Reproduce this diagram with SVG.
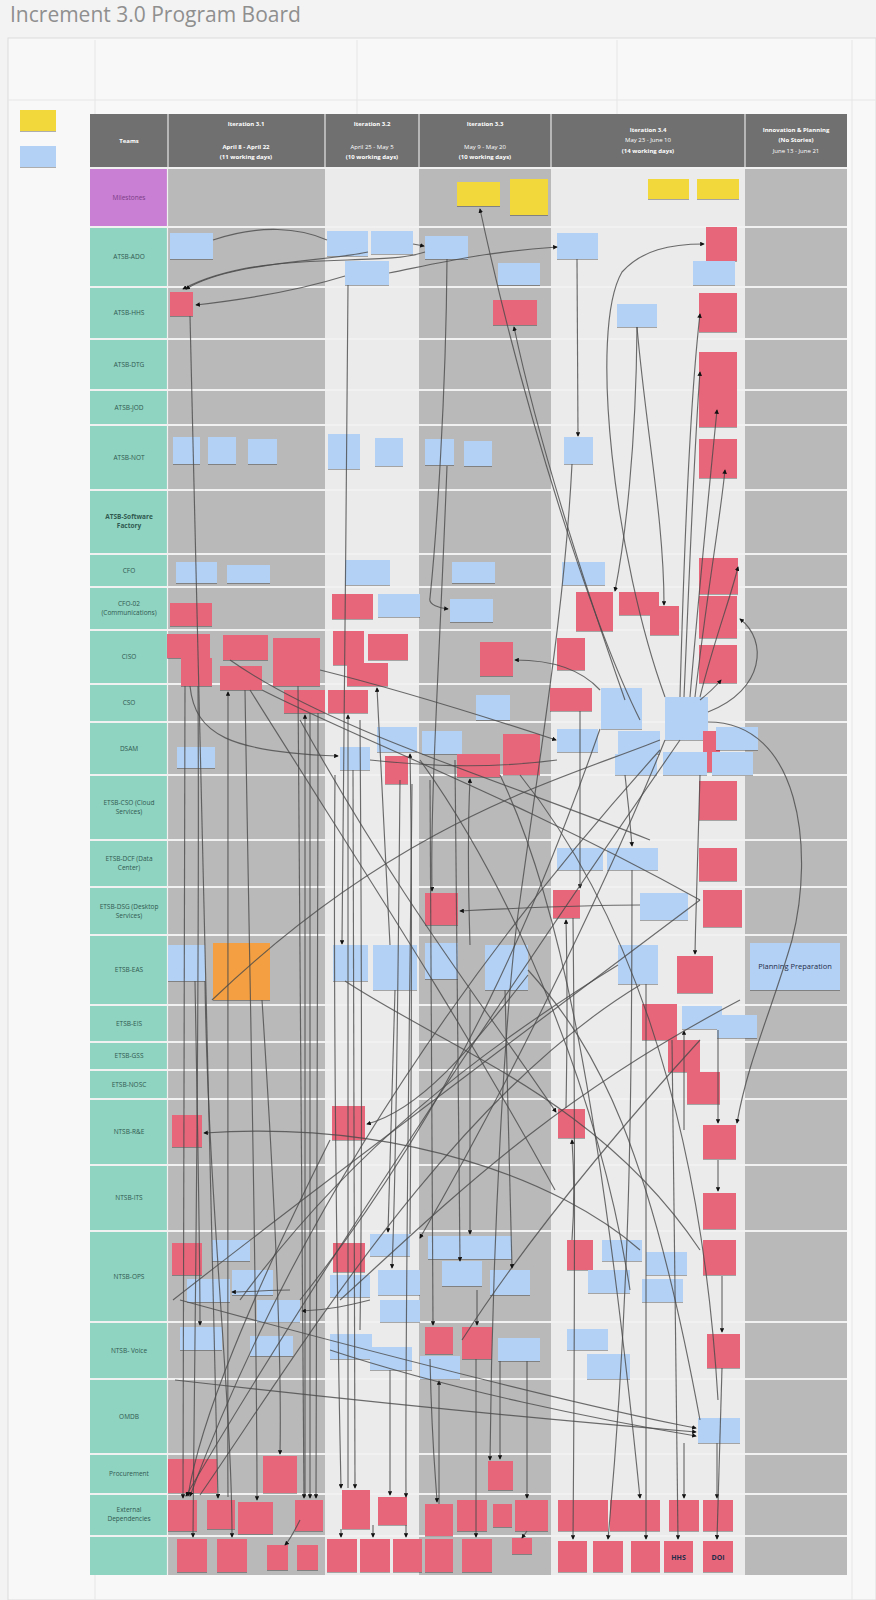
<svg xmlns="http://www.w3.org/2000/svg" width="876" height="1600" viewBox="0 0 876 1600">
<defs>
<style>
.title{font-family:"Open Sans","Liberation Sans",sans-serif;font-size:21px;fill:#8f8f8f}
.hd{font-family:"Open Sans","Liberation Sans",sans-serif;font-size:6px;fill:#fff;text-anchor:middle}
.bd{font-weight:bold}
.lbl{font-family:"Open Sans","Liberation Sans",sans-serif;font-size:6.5px;fill:#2f5a50;text-anchor:middle}
.mil{fill:#7a3e86}
.b{fill:#b3d1f4}
.r{fill:#e8667a}
.y{fill:#f3d83a}
.o{fill:#f4a042}
.notes rect{filter:url(#sh)}
.nt{font-family:"Open Sans","Liberation Sans",sans-serif;fill:#1f2d4a;text-anchor:middle}
.c path{fill:none;stroke:#4a4a4a;stroke-width:1.15;stroke-opacity:.8}
.sep{stroke:#f1f1f1;stroke-width:2.2}
.grid{stroke:#e6e6e6;stroke-width:1}
</style>
<filter id="sh" x="-10%" y="-10%" width="120%" height="130%"><feDropShadow dx="0" dy="1" stdDeviation="0.6" flood-color="#000" flood-opacity="0.3"/></filter>
<marker id="a" viewBox="0 0 6 6" refX="5" refY="3" markerWidth="4" markerHeight="4" orient="auto"><path d="M0,0 L6,3 L0,6 z" fill="#111"/></marker>
</defs>
<rect width="876" height="1600" fill="#f3f3f3"/>
<rect x="8" y="38" width="868" height="1562" fill="#f8f8f8" stroke="#dcdcdc"/>
<g id="grid">
<line class="grid" x1="95" y1="40" x2="95" y2="114"/>
<line class="grid" x1="95" y1="1575" x2="95" y2="1600"/>
<line class="grid" x1="357" y1="40" x2="357" y2="114"/>
<line class="grid" x1="617" y1="40" x2="617" y2="114"/>
<line class="grid" x1="852" y1="40" x2="852" y2="1600"/>
<line class="grid" x1="8" y1="100" x2="876" y2="100"/>
</g>
<text class="title" x="10" y="22">Increment 3.0 Program Board</text>

<g id="legend">
<rect x="20" y="110" width="36" height="21" class="y" filter="url(#sh)"/>
<rect x="20" y="146" width="36" height="21" class="b" filter="url(#sh)"/>
</g>

<g id="board">
<rect x="168" y="168" width="157" height="1407" fill="#b9b9b9"/>
<rect x="325" y="168" width="94" height="1407" fill="#ebebeb"/>
<rect x="419" y="168" width="132" height="1407" fill="#b9b9b9"/>
<rect x="551" y="168" width="194" height="1407" fill="#ebebeb"/>
<rect x="745" y="168" width="102" height="1407" fill="#b9b9b9"/>
<rect x="90" y="168" width="77" height="1407" fill="#8fd3c1"/>
<rect x="90" y="168" width="77" height="59" fill="#c97fd3"/>
<g id="header">
<rect x="90" y="114" width="757" height="53" fill="#707070"/>
<line x1="168" y1="114" x2="168" y2="167" stroke="#e6e6e6" stroke-width="1.2"/>
<line x1="325" y1="114" x2="325" y2="167" stroke="#e6e6e6" stroke-width="1.2"/>
<line x1="419" y1="114" x2="419" y2="167" stroke="#e6e6e6" stroke-width="1.2"/>
<line x1="551" y1="114" x2="551" y2="167" stroke="#e6e6e6" stroke-width="1.2"/>
<line x1="745" y1="114" x2="745" y2="167" stroke="#e6e6e6" stroke-width="1.2"/>
<text class="hd bd" x="129" y="143">Teams</text>
<text class="hd bd" x="246" y="126">Iteration 3.1</text>
<text class="hd bd" x="246" y="149">April 8 - April 22</text>
<text class="hd bd" x="246" y="159">(11 working days)</text>
<text class="hd bd" x="372" y="126">Iteration 3.2</text>
<text class="hd" x="372" y="149">April 25 - May 5</text>
<text class="hd bd" x="372" y="159">(10 working days)</text>
<text class="hd bd" x="485" y="126">Iteration 3.3</text>
<text class="hd" x="485" y="149">May 9 - May 20</text>
<text class="hd bd" x="485" y="159">(10 working days)</text>
<text class="hd bd" x="648" y="132">Iteration 3.4</text>
<text class="hd" x="648" y="142">May 23 - June 10</text>
<text class="hd bd" x="648" y="153">(14 working days)</text>
<text class="hd bd" x="796" y="132">Innovation &amp; Planning</text>
<text class="hd bd" x="796" y="142">(No Stories)</text>
<text class="hd" x="796" y="153">June 13 - June 21</text>
</g>
<g id="rowlines">
<line class="sep" x1="90" y1="168" x2="847" y2="168"/>
<line class="sep" x1="90" y1="227" x2="847" y2="227"/>
<line class="sep" x1="90" y1="287" x2="847" y2="287"/>
<line class="sep" x1="90" y1="339" x2="847" y2="339"/>
<line class="sep" x1="90" y1="390" x2="847" y2="390"/>
<line class="sep" x1="90" y1="425" x2="847" y2="425"/>
<line class="sep" x1="90" y1="490" x2="847" y2="490"/>
<line class="sep" x1="90" y1="554" x2="847" y2="554"/>
<line class="sep" x1="90" y1="587" x2="847" y2="587"/>
<line class="sep" x1="90" y1="630" x2="847" y2="630"/>
<line class="sep" x1="90" y1="684" x2="847" y2="684"/>
<line class="sep" x1="90" y1="722" x2="847" y2="722"/>
<line class="sep" x1="90" y1="775" x2="847" y2="775"/>
<line class="sep" x1="90" y1="840" x2="847" y2="840"/>
<line class="sep" x1="90" y1="887" x2="847" y2="887"/>
<line class="sep" x1="90" y1="935" x2="847" y2="935"/>
<line class="sep" x1="90" y1="1005" x2="847" y2="1005"/>
<line class="sep" x1="90" y1="1042" x2="847" y2="1042"/>
<line class="sep" x1="90" y1="1070" x2="847" y2="1070"/>
<line class="sep" x1="90" y1="1099" x2="847" y2="1099"/>
<line class="sep" x1="90" y1="1165" x2="847" y2="1165"/>
<line class="sep" x1="90" y1="1231" x2="847" y2="1231"/>
<line class="sep" x1="90" y1="1322" x2="847" y2="1322"/>
<line class="sep" x1="90" y1="1379" x2="847" y2="1379"/>
<line class="sep" x1="90" y1="1454" x2="847" y2="1454"/>
<line class="sep" x1="90" y1="1494" x2="847" y2="1494"/>
<line class="sep" x1="90" y1="1536" x2="847" y2="1536"/>
<line x1="167.5" y1="168" x2="167.5" y2="1575" stroke="#f1f1f1" stroke-width="1.2"/>
</g>
<g id="rowlabels">
<text class="lbl mil" x="129" y="200">Milestones</text>
<text class="lbl" x="129" y="259">ATSB-ADO</text>
<text class="lbl" x="129" y="315">ATSB-HHS</text>
<text class="lbl" x="129" y="367">ATSB-DTG</text>
<text class="lbl" x="129" y="410">ATSB-JOD</text>
<text class="lbl" x="129" y="460">ATSB-NOT</text>
<text class="lbl bd" x="129" y="519">ATSB-Software</text>
<text class="lbl bd" x="129" y="528">Factory</text>
<text class="lbl" x="129" y="573">CFO</text>
<text class="lbl" x="129" y="606">CFO-02</text>
<text class="lbl" x="129" y="615">(Communications)</text>
<text class="lbl" x="129" y="659">CISO</text>
<text class="lbl" x="129" y="705">CSO</text>
<text class="lbl" x="129" y="751">DSAM</text>
<text class="lbl" x="129" y="805">ETSB-CSO (Cloud</text>
<text class="lbl" x="129" y="814">Services)</text>
<text class="lbl" x="129" y="861">ETSB-DCF (Data</text>
<text class="lbl" x="129" y="870">Center)</text>
<text class="lbl" x="129" y="909">ETSB-DSG (Desktop</text>
<text class="lbl" x="129" y="918">Services)</text>
<text class="lbl" x="129" y="972">ETSB-EAS</text>
<text class="lbl" x="129" y="1026">ETSB-EIS</text>
<text class="lbl" x="129" y="1058">ETSB-GSS</text>
<text class="lbl" x="129" y="1087">ETSB-NOSC</text>
<text class="lbl" x="129" y="1134">NTSB-R&amp;E</text>
<text class="lbl" x="129" y="1200">NTSB-ITS</text>
<text class="lbl" x="129" y="1279">NTSB-OPS</text>
<text class="lbl" x="129" y="1353">NTSB- Voice</text>
<text class="lbl" x="129" y="1419">OMDB</text>
<text class="lbl" x="129" y="1476">Procurement</text>
<text class="lbl" x="129" y="1512">External</text>
<text class="lbl" x="129" y="1521">Dependencies</text>
</g>
</g>

<g class="notes">
<g id="m1"><rect class="y" x="457" y="182" width="43" height="24"/></g>
<g id="m2"><rect class="y" x="510" y="179" width="38" height="36"/></g>
<g id="m3"><rect class="y" x="648" y="179" width="41" height="20"/></g>
<g id="m4"><rect class="y" x="697" y="179" width="42" height="20"/></g>
<g id="ado1"><rect class="b" x="170" y="233" width="43" height="26"/></g>
<g id="ado2"><rect class="b" x="327" y="231" width="41" height="25"/></g>
<g id="ado3"><rect class="b" x="371" y="231" width="42" height="23"/></g>
<g id="ado4"><rect class="b" x="345" y="261" width="44" height="24"/></g>
<g id="ado5"><rect class="b" x="425" y="236" width="43" height="23"/></g>
<g id="ado6"><rect class="b" x="498" y="263" width="42" height="22"/></g>
<g id="ado7"><rect class="b" x="557" y="233" width="41" height="26"/></g>
<g id="ado8"><rect class="r" x="706" y="227" width="31" height="34"/></g>
<g id="ado9"><rect class="b" x="693" y="261" width="42" height="24"/></g>
<g id="hhs1"><rect class="r" x="170" y="292" width="23" height="24"/></g>
<g id="hhs2"><rect class="r" x="493" y="300" width="44" height="25"/></g>
<g id="hhs3"><rect class="b" x="617" y="304" width="40" height="23"/></g>
<g id="hhs4"><rect class="r" x="699" y="293" width="38" height="39"/></g>
<g id="dtg1"><rect class="r" x="699" y="352" width="38" height="38"/></g>
<g id="jod1"><rect class="r" x="699" y="390" width="38" height="37"/></g>
<g id="not1"><rect class="b" x="173" y="437" width="27" height="27"/></g>
<g id="not2"><rect class="b" x="208" y="437" width="28" height="27"/></g>
<g id="not3"><rect class="b" x="248" y="439" width="29" height="25"/></g>
<g id="not4"><rect class="b" x="328" y="434" width="32" height="35"/></g>
<g id="not5"><rect class="b" x="375" y="438" width="28" height="28"/></g>
<g id="not6"><rect class="b" x="425" y="439" width="29" height="26"/></g>
<g id="not7"><rect class="b" x="464" y="441" width="28" height="25"/></g>
<g id="not8"><rect class="b" x="564" y="437" width="29" height="27"/></g>
<g id="not9"><rect class="r" x="699" y="439" width="38" height="39"/></g>
<g id="cfo1"><rect class="b" x="176" y="562" width="41" height="21"/></g>
<g id="cfo2"><rect class="b" x="227" y="565" width="43" height="18"/></g>
<g id="cfo3"><rect class="b" x="345" y="560" width="45" height="25"/></g>
<g id="cfo4"><rect class="b" x="452" y="562" width="43" height="21"/></g>
<g id="cfo5"><rect class="b" x="562" y="562" width="43" height="23"/></g>
<g id="cfo6"><rect class="r" x="699" y="558" width="39" height="36"/></g>
<g id="com1"><rect class="r" x="170" y="603" width="42" height="23"/></g>
<g id="com2"><rect class="r" x="332" y="594" width="41" height="25"/></g>
<g id="com3"><rect class="b" x="378" y="594" width="42" height="23"/></g>
<g id="com4"><rect class="b" x="450" y="599" width="43" height="23"/></g>
<g id="com5"><rect class="r" x="576" y="592" width="37" height="39"/></g>
<g id="com6"><rect class="r" x="619" y="592" width="40" height="23"/></g>
<g id="com7"><rect class="r" x="650" y="606" width="29" height="29"/></g>
<g id="com8"><rect class="r" x="699" y="596" width="38" height="42"/></g>
<g id="ciso1"><rect class="r" x="167" y="634" width="43" height="24"/></g>
<g id="ciso2"><rect class="r" x="181" y="658" width="31" height="28"/></g>
<g id="ciso3"><rect class="r" x="223" y="635" width="45" height="25"/></g>
<g id="ciso4"><rect class="r" x="220" y="666" width="42" height="24"/></g>
<g id="ciso5"><rect class="r" x="273" y="638" width="47" height="48"/></g>
<g id="ciso6"><rect class="r" x="333" y="631" width="31" height="34"/></g>
<g id="ciso7"><rect class="r" x="368" y="634" width="40" height="26"/></g>
<g id="ciso8"><rect class="r" x="347" y="663" width="41" height="23"/></g>
<g id="ciso9"><rect class="r" x="480" y="642" width="33" height="34"/></g>
<g id="ciso10"><rect class="r" x="557" y="638" width="28" height="32"/></g>
<g id="ciso11"><rect class="r" x="699" y="645" width="38" height="38"/></g>
<g id="cso1"><rect class="r" x="284" y="690" width="41" height="23"/></g>
<g id="cso2"><rect class="r" x="328" y="690" width="40" height="23"/></g>
<g id="cso3"><rect class="b" x="476" y="695" width="34" height="25"/></g>
<g id="cso4"><rect class="r" x="550" y="688" width="42" height="23"/></g>
<g id="cso5"><rect class="b" x="601" y="688" width="41" height="41"/></g>
<g id="cso6"><rect class="b" x="665" y="697" width="43" height="43"/></g>
<g id="dsam1"><rect class="b" x="177" y="747" width="38" height="21"/></g>
<g id="dsam2"><rect class="b" x="340" y="747" width="30" height="23"/></g>
<g id="dsam3"><rect class="b" x="377" y="727" width="40" height="25"/></g>
<g id="dsam4"><rect class="b" x="422" y="731" width="40" height="23"/></g>
<g id="dsam5"><rect class="r" x="385" y="756" width="23" height="28"/></g>
<g id="dsam6"><rect class="r" x="457" y="754" width="43" height="23"/></g>
<g id="dsam7"><rect class="r" x="503" y="734" width="37" height="41"/></g>
<g id="dsam8"><rect class="b" x="557" y="729" width="41" height="23"/></g>
<g id="dsam9"><rect class="b" x="618" y="731" width="42" height="23"/></g>
<g id="dsam10"><rect class="b" x="615" y="754" width="42" height="21"/></g>
<g id="dsam11"><rect class="r" x="703" y="731" width="17" height="41"/></g>
<g id="dsam12"><rect class="b" x="716" y="727" width="42" height="23"/></g>
<g id="dsam13"><rect class="b" x="663" y="752" width="44" height="23"/></g>
<g id="dsam14"><rect class="b" x="712" y="752" width="41" height="23"/></g>
<g id="cld1"><rect class="r" x="699" y="781" width="38" height="39"/></g>
<g id="dcf1"><rect class="b" x="557" y="848" width="46" height="22"/></g>
<g id="dcf2"><rect class="b" x="607" y="848" width="51" height="22"/></g>
<g id="dcf3"><rect class="r" x="699" y="848" width="38" height="33"/></g>
<g id="dsg1"><rect class="r" x="425" y="893" width="33" height="32"/></g>
<g id="dsg2"><rect class="r" x="553" y="890" width="27" height="28"/></g>
<g id="dsg3"><rect class="b" x="640" y="893" width="48" height="27"/></g>
<g id="dsg4"><rect class="r" x="703" y="890" width="39" height="37"/></g>
<g id="eas1"><rect class="b" x="168" y="945" width="37" height="36"/></g>
<g id="eas2"><rect class="o" x="213" y="943" width="57" height="57"/></g>
<g id="eas3"><rect class="b" x="333" y="945" width="35" height="36"/></g>
<g id="eas4"><rect class="b" x="373" y="945" width="44" height="45"/></g>
<g id="eas5"><rect class="b" x="425" y="943" width="33" height="36"/></g>
<g id="eas6"><rect class="b" x="485" y="945" width="43" height="45"/></g>
<g id="eas7"><rect class="b" x="618" y="945" width="40" height="39"/></g>
<g id="eas8"><rect class="r" x="677" y="956" width="36" height="37"/></g>
<g id="eas9"><rect class="b" x="750" y="943" width="90" height="47"/><text class="nt" x="795" y="969" font-size="7.5">Planning Preparation</text></g>
<g id="eis1"><rect class="r" x="642" y="1004" width="35" height="36"/></g>
<g id="eis2"><rect class="b" x="682" y="1006" width="40" height="23"/></g>
<g id="eis3"><rect class="b" x="717" y="1015" width="40" height="23"/></g>
<g id="gss1"><rect class="r" x="668" y="1040" width="32" height="32"/></g>
<g id="nosc1"><rect class="r" x="687" y="1072" width="33" height="32"/></g>
<g id="re1"><rect class="r" x="172" y="1115" width="30" height="32"/></g>
<g id="re2"><rect class="r" x="332" y="1106" width="33" height="34"/></g>
<g id="re3"><rect class="r" x="558" y="1109" width="27" height="29"/></g>
<g id="re4"><rect class="r" x="703" y="1125" width="33" height="34"/></g>
<g id="its1"><rect class="r" x="703" y="1193" width="33" height="36"/></g>
<g id="ops1"><rect class="r" x="172" y="1243" width="30" height="32"/></g>
<g id="ops2"><rect class="b" x="212" y="1240" width="38" height="21"/></g>
<g id="ops3"><rect class="b" x="187" y="1279" width="43" height="23"/></g>
<g id="ops4"><rect class="b" x="232" y="1270" width="41" height="25"/></g>
<g id="ops5"><rect class="b" x="257" y="1300" width="43" height="22"/></g>
<g id="ops6"><rect class="r" x="333" y="1243" width="32" height="29"/></g>
<g id="ops7"><rect class="b" x="370" y="1234" width="40" height="22"/></g>
<g id="ops8"><rect class="b" x="330" y="1275" width="40" height="22"/></g>
<g id="ops9"><rect class="b" x="378" y="1270" width="42" height="25"/></g>
<g id="ops10"><rect class="b" x="380" y="1300" width="40" height="22"/></g>
<g id="ops11"><rect class="b" x="428" y="1236" width="84" height="23"/></g>
<g id="ops12"><rect class="b" x="442" y="1261" width="40" height="25"/></g>
<g id="ops13"><rect class="b" x="490" y="1270" width="40" height="25"/></g>
<g id="ops14"><rect class="r" x="567" y="1240" width="26" height="30"/></g>
<g id="ops15"><rect class="b" x="602" y="1240" width="40" height="21"/></g>
<g id="ops16"><rect class="b" x="588" y="1270" width="42" height="23"/></g>
<g id="ops17"><rect class="b" x="646" y="1252" width="41" height="23"/></g>
<g id="ops18"><rect class="b" x="642" y="1279" width="41" height="23"/></g>
<g id="ops19"><rect class="r" x="703" y="1240" width="33" height="35"/></g>
<g id="v1"><rect class="b" x="180" y="1327" width="42" height="23"/></g>
<g id="v2"><rect class="b" x="250" y="1336" width="43" height="20"/></g>
<g id="v3"><rect class="b" x="330" y="1334" width="42" height="25"/></g>
<g id="v4"><rect class="b" x="370" y="1347" width="42" height="23"/></g>
<g id="v5"><rect class="r" x="425" y="1327" width="28" height="27"/></g>
<g id="v6"><rect class="r" x="462" y="1327" width="30" height="32"/></g>
<g id="v7"><rect class="b" x="498" y="1338" width="42" height="23"/></g>
<g id="v8"><rect class="b" x="420" y="1356" width="40" height="23"/></g>
<g id="v9"><rect class="b" x="567" y="1329" width="41" height="21"/></g>
<g id="v10"><rect class="b" x="587" y="1354" width="43" height="25"/></g>
<g id="v11"><rect class="r" x="707" y="1334" width="33" height="34"/></g>
<g id="om1"><rect class="b" x="698" y="1418" width="42" height="25"/></g>
<g id="pr1"><rect class="r" x="168" y="1459" width="49" height="34"/></g>
<g id="pr2"><rect class="r" x="263" y="1456" width="34" height="37"/></g>
<g id="pr3"><rect class="r" x="488" y="1461" width="25" height="29"/></g>
<g id="ex1"><rect class="r" x="168" y="1500" width="29" height="31"/></g>
<g id="ex2"><rect class="r" x="207" y="1500" width="28" height="29"/></g>
<g id="ex3"><rect class="r" x="238" y="1502" width="35" height="32"/></g>
<g id="ex4"><rect class="r" x="295" y="1500" width="28" height="31"/></g>
<g id="ex5"><rect class="r" x="342" y="1490" width="28" height="39"/></g>
<g id="ex6"><rect class="r" x="378" y="1497" width="29" height="28"/></g>
<g id="ex7"><rect class="r" x="425" y="1504" width="28" height="32"/></g>
<g id="ex8"><rect class="r" x="457" y="1500" width="30" height="31"/></g>
<g id="ex9"><rect class="r" x="493" y="1504" width="19" height="23"/></g>
<g id="ex10"><rect class="r" x="515" y="1500" width="33" height="31"/></g>
<g id="ex11"><rect class="r" x="558" y="1500" width="50" height="31"/></g>
<g id="ex12"><rect class="r" x="610" y="1500" width="50" height="31"/></g>
<g id="ex13"><rect class="r" x="669" y="1500" width="30" height="31"/></g>
<g id="ex14"><rect class="r" x="703" y="1500" width="30" height="31"/></g>
<g id="bl1"><rect class="r" x="177" y="1539" width="30" height="33"/></g>
<g id="bl2"><rect class="r" x="217" y="1539" width="30" height="33"/></g>
<g id="bl3"><rect class="r" x="267" y="1545" width="21" height="25"/></g>
<g id="bl4"><rect class="r" x="297" y="1545" width="21" height="25"/></g>
<g id="bl5"><rect class="r" x="327" y="1539" width="30" height="33"/></g>
<g id="bl6"><rect class="r" x="360" y="1539" width="30" height="33"/></g>
<g id="bl7"><rect class="r" x="393" y="1539" width="29" height="33"/></g>
<g id="bl8"><rect class="r" x="425" y="1539" width="28" height="33"/></g>
<g id="bl9"><rect class="r" x="462" y="1539" width="30" height="33"/></g>
<g id="bl10"><rect class="r" x="512" y="1538" width="20" height="16"/></g>
<g id="bl11"><rect class="r" x="558" y="1541" width="29" height="31"/></g>
<g id="bl12"><rect class="r" x="593" y="1541" width="30" height="31"/></g>
<g id="bl13"><rect class="r" x="631" y="1541" width="29" height="31"/></g>
<g id="bl14"><rect class="r" x="664" y="1541" width="29" height="31"/><text class="nt" x="678.5" y="1560" font-size="7" font-weight="bold">HHS</text></g>
<g id="bl15"><rect class="r" x="703" y="1541" width="30" height="31"/><text class="nt" x="718" y="1560" font-size="7" font-weight="bold">DOI</text></g>
</g>

<g id="connectors" class="c">
<path d="M213 240 C260 224 300 228 327 240"/>
<path d="M345 276 C300 290 240 300 196 305" marker-end="url(#a)"/>
<path d="M425 252 C380 268 260 248 183 289" marker-end="url(#a)"/>
<path d="M368 252 C320 262 230 262 186 289" marker-end="url(#a)"/>
<path d="M389 273 C430 265 480 252 557 247" marker-end="url(#a)"/>
<path d="M413 244 L424 246" marker-end="url(#a)"/>
<path d="M190 316 C194 600 205 1000 218 1498" marker-end="url(#a)"/>
<path d="M348 285 C346 500 344 800 342 944" marker-end="url(#a)"/>
<path d="M447 259 C446 400 436 540 430 598 C428 605 440 608 448 609" marker-end="url(#a)"/>
<path d="M640 720 C600 640 530 440 480 209" marker-end="url(#a)"/>
<path d="M625 700 C590 600 540 450 514 327" marker-end="url(#a)"/>
<path d="M665 697 C615 560 588 330 622 272 C642 250 670 244 704 244" marker-end="url(#a)"/>
<path d="M637 327 C636 450 625 540 615 591" marker-end="url(#a)"/>
<path d="M637 327 C646 430 664 520 664 605" marker-end="url(#a)"/>
<path d="M577 259 L578 436" marker-end="url(#a)"/>
<path d="M572 464 C565 600 545 720 520 900 C505 1000 492 1250 490 1460" marker-end="url(#a)"/>
<path d="M680 697 C684 550 690 400 700 314" marker-end="url(#a)"/>
<path d="M684 697 C690 560 694 450 700 372" marker-end="url(#a)"/>
<path d="M690 697 C700 580 710 480 717 410" marker-end="url(#a)"/>
<path d="M695 697 C706 600 720 520 725 470" marker-end="url(#a)"/>
<path d="M700 697 C714 640 730 600 738 567" marker-end="url(#a)"/>
<path d="M700 700 C710 692 716 686 721 680" marker-end="url(#a)"/>
<path d="M708 712 C765 690 768 640 740 619" marker-end="url(#a)"/>
<path d="M708 722 C800 722 815 850 792 940 C772 1010 748 1060 737 1123" marker-end="url(#a)"/>
<path d="M600 690 C580 668 550 660 515 660" marker-end="url(#a)"/>
<path d="M190 686 C195 735 230 752 338 756" marker-end="url(#a)"/>
<path d="M228 1497 C226 1200 226 900 228 692" marker-end="url(#a)"/>
<path d="M305 1497 C306 1100 306 900 305 715" marker-end="url(#a)"/>
<path d="M348 1488 C348 1100 349 900 348 715" marker-end="url(#a)"/>
<path d="M390 945 C385 850 380 750 377 688" marker-end="url(#a)"/>
<path d="M410 1234 C412 1000 412 850 410 754" marker-end="url(#a)"/>
<path d="M470 945 C468 880 468 820 470 779" marker-end="url(#a)"/>
<path d="M320 670 C400 690 480 715 556 740" marker-end="url(#a)"/>
<path d="M370 760 C420 765 480 770 557 760"/>
<path d="M640 905 C600 905 520 908 460 911" marker-end="url(#a)"/>
<path d="M580 711 C580 800 580 850 580 888" marker-end="url(#a)"/>
<path d="M625 775 C628 800 630 820 632 846" marker-end="url(#a)"/>
<path d="M566 1108 C568 1000 567 960 566 920" marker-end="url(#a)"/>
<path d="M700 775 C698 850 696 900 695 954" marker-end="url(#a)"/>
<path d="M684 1130 C684 1080 684 1050 684 1031" marker-end="url(#a)"/>
<path d="M718 1030 C718 1060 718 1090 718 1123" marker-end="url(#a)"/>
<path d="M572 1240 C575 1200 574 1170 572 1140" marker-end="url(#a)"/>
<path d="M718 1160 L718 1191" marker-end="url(#a)"/>
<path d="M722 1276 C722 1300 722 1310 722 1332" marker-end="url(#a)"/>
<path d="M195 981 C198 1150 200 1250 200 1325" marker-end="url(#a)"/>
<path d="M640 1250 C560 1180 400 1120 204 1133" marker-end="url(#a)"/>
<path d="M528 975 C470 1050 420 1110 367 1124" marker-end="url(#a)"/>
<path d="M290 1290 C270 1290 250 1292 232 1292" marker-end="url(#a)"/>
<path d="M370 1300 C350 1305 330 1310 302 1311" marker-end="url(#a)"/>
<path d="M395 990 C392 1100 389 1180 388 1232" marker-end="url(#a)"/>
<path d="M477 1290 L477 1325" marker-end="url(#a)"/>
<path d="M439 1504 C439 1460 439 1420 439 1381" marker-end="url(#a)"/>
<path d="M262 1000 C275 1200 282 1350 280 1454" marker-end="url(#a)"/>
<path d="M500 1361 C500 1400 500 1430 500 1459" marker-end="url(#a)"/>
<path d="M175 1380 C350 1400 550 1420 696 1432" marker-end="url(#a)"/>
<path d="M180 1300 C400 1360 600 1410 696 1428" marker-end="url(#a)"/>
<path d="M330 1350 C450 1390 600 1420 696 1436" marker-end="url(#a)"/>
<path d="M684 1443 L684 1498" marker-end="url(#a)"/>
<path d="M717 1443 L717 1498" marker-end="url(#a)"/>
<path d="M573 918 C575 1100 575 1300 573 1539" marker-end="url(#a)"/>
<path d="M632 870 C632 1100 630 1300 608 1539" marker-end="url(#a)"/>
<path d="M646 984 C646 1200 646 1400 646 1539" marker-end="url(#a)"/>
<path d="M672 1040 C675 1250 678 1450 678 1539" marker-end="url(#a)"/>
<path d="M722 1368 C720 1450 718 1500 717 1539" marker-end="url(#a)"/>
<path d="M185 686 C182 1000 184 1300 183 1498" marker-end="url(#a)"/>
<path d="M198 686 C200 1000 195 1300 193 1537" marker-end="url(#a)"/>
<path d="M205 981 C208 1200 232 1400 232 1537" marker-end="url(#a)"/>
<path d="M245 690 C250 1000 257 1300 257 1500" marker-end="url(#a)"/>
<path d="M298 686 C300 1000 304 1300 304 1498" marker-end="url(#a)"/>
<path d="M310 713 C310 1000 310 1300 310 1498" marker-end="url(#a)"/>
<path d="M318 713 C318 1000 316 1300 316 1498" marker-end="url(#a)"/>
<path d="M353 770 C354 1100 355 1350 355 1488" marker-end="url(#a)"/>
<path d="M390 1370 L390 1495" marker-end="url(#a)"/>
<path d="M341 1529 L341 1537" marker-end="url(#a)"/>
<path d="M373 1525 L373 1537" marker-end="url(#a)"/>
<path d="M406 1525 L406 1537" marker-end="url(#a)"/>
<path d="M430 1359 C432 1450 436 1480 437 1502" marker-end="url(#a)"/>
<path d="M476 1359 C476 1450 476 1500 476 1537" marker-end="url(#a)"/>
<path d="M527 1361 C527 1420 527 1470 527 1498" marker-end="url(#a)"/>
<path d="M527 1531 L522 1538" marker-end="url(#a)"/>
<path d="M300 1520 C295 1530 290 1540 285 1545" marker-end="url(#a)"/>
<path d="M680 740 C500 1000 300 1300 186 1496" marker-end="url(#a)"/>
<path d="M660 750 C480 950 300 1200 190 1496" marker-end="url(#a)"/>
<path d="M200 1495 C300 1350 450 1100 640 985"/>
<path d="M240 1300 C350 1150 480 1050 618 965"/>
<path d="M330 1140 C250 1300 200 1420 188 1496" marker-end="url(#a)"/>
<path d="M520 775 C620 900 700 1100 718 1400"/>
<path d="M420 760 C520 900 600 1100 630 1290"/>
<path d="M300 720 C400 900 480 1000 556 1112" marker-end="url(#a)"/>
<path d="M250 690 C350 850 450 1000 555 1190"/>
<path d="M230 660 C330 730 500 780 650 840"/>
<path d="M262 690 C360 740 520 800 700 900"/>
<path d="M345 981 C450 1050 600 1100 700 1250"/>
<path d="M173 1300 C300 1200 500 1050 700 900"/>
<path d="M340 1300 C450 1200 550 1100 740 1000"/>
<path d="M462 1340 C520 1250 600 1150 700 1040"/>
<path d="M528 970 C600 1050 650 1150 700 1420"/>
<path d="M447 466 C440 650 430 800 432 891" marker-end="url(#a)"/>
<path d="M335 775 C333 1000 337 1300 341 1488" marker-end="url(#a)"/>
<path d="M360 720 C362 1000 362 1200 360 1330"/>
<path d="M400 780 C398 1000 395 1200 392 1268" marker-end="url(#a)"/>
<path d="M412 784 C410 1000 405 1300 406 1497" marker-end="url(#a)"/>
<path d="M430 780 C431 1000 432 1200 433 1325" marker-end="url(#a)"/>
<path d="M455 760 C456 1000 458 1200 460 1261" marker-end="url(#a)"/>
<path d="M470 990 C470 1100 470 1200 470 1234" marker-end="url(#a)"/>
<path d="M505 990 C508 1100 510 1200 512 1268" marker-end="url(#a)"/>
<path d="M500 775 C560 900 600 1100 640 1498" marker-end="url(#a)"/>
<path d="M665 740 C600 900 500 1100 420 1238" marker-end="url(#a)"/>
<path d="M660 740 C560 780 400 820 212 1000"/>
<path d="M600 729 C540 900 460 1100 300 1300"/>
</g>
</svg>
